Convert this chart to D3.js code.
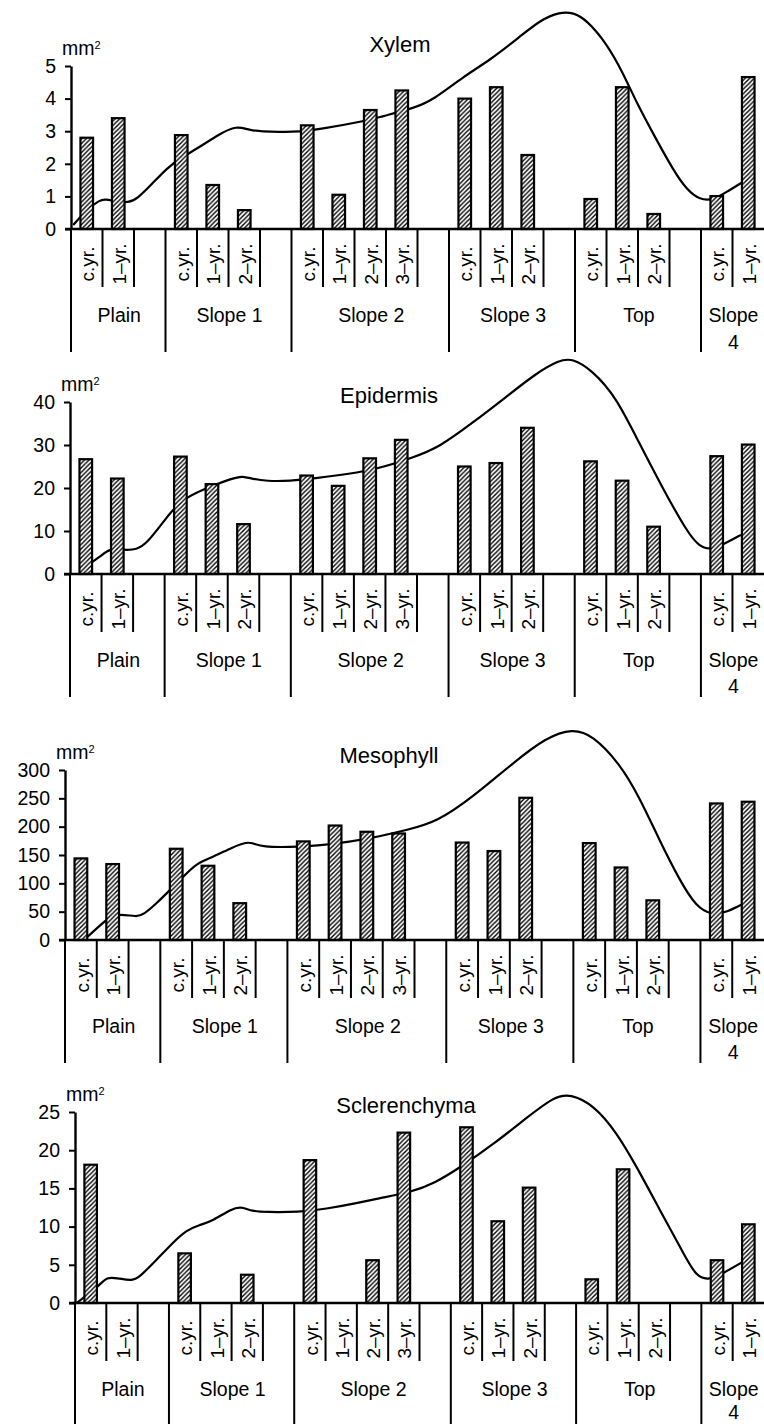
<!DOCTYPE html>
<html>
<head>
<meta charset="utf-8">
<script src="https://cdn.jsdelivr.net/npm/d3@7"></script>
<style>
  body { margin: 0; background: #fff; }
  svg { display: block; }
  text { font-family: "Liberation Sans", Arial, Helvetica, sans-serif; fill: #000; }
</style>
</head>
<body>
<svg id="chart" width="764" height="1424"></svg>
<script>
//=================== Data ===================
const groupNames = ["Plain", "Slope 1", "Slope 2", "Slope 3", "Top", "Slope 4"];
const groupAges = [
  ["c.yr.", "1–yr."],
  ["c.yr.", "1–yr.", "2–yr."],
  ["c.yr.", "1–yr.", "2–yr.", "3–yr."],
  ["c.yr.", "1–yr.", "2–yr."],
  ["c.yr.", "1–yr.", "2–yr."],
  ["c.yr.", "1–yr."]
];

// bar values, in slot order (Plain c.yr ... Slope 4 1-yr)
const xylemValues = [2.8, 3.4, 2.88, 1.35, 0.58, 3.18, 1.05, 3.65, 4.25, 4.0, 4.35, 2.27, 0.92, 4.35, 0.46, 1.01, 4.66];
const epidermisValues = [26.7, 22.2, 27.3, 20.9, 11.6, 22.9, 20.5, 26.9, 31.2, 25.0, 25.8, 34.0, 26.2, 21.7, 11.0, 27.4, 30.1];
const mesophyllValues = [144, 134, 161, 131, 65, 174, 202, 191, 188, 172, 157, 251, 171, 128, 70, 241, 244];
const sclerenchymaValues = [18.1, 0, 6.5, 0, 3.7, 18.7, 0, 5.6, 22.3, 23.0, 10.7, 15.1, 3.1, 17.5, 0, 5.6, 10.3];

const xylemTicks = [0, 1, 2, 3, 4, 5];
const epidermisTicks = [0, 10, 20, 30, 40];
const mesophyllTicks = [0, 50, 100, 150, 200, 250, 300];
const sclerenchymaTicks = [0, 5, 10, 15, 20, 25];

// profile line: [slot position, value]
const xylemCurve = [[0.07,0.12],[0.5,0.6],[0.92,0.89],[1.08,0.92],[1.45,0.84],[1.82,0.81],[2.09,0.91],[2.61,1.42],
  [3.04,1.86],[3.46,2.17],[4.1,2.52],[4.73,2.93],[5.26,3.16],[5.58,3.06],[6.0,2.98],[7.06,2.97],[7.9,3.06],
  [9.39,3.32],[9.81,3.44],[10.87,3.7],[11.5,3.96],[12.45,4.67],[13.3,5.18],[14.25,5.9],[14.9,6.41],[15.52,6.66],
  [15.95,6.64],[16.37,6.41],[17.0,5.7],[17.53,4.78],[17.96,3.86],[18.59,2.73],[19.12,1.81],[19.55,1.2],
  [19.97,0.89],[20.39,0.89],[20.82,1.14],[21.29,1.42]];
const epidermisCurve = [[0.45,1.5],[0.95,4.0],[1.27,6.0],[1.68,5.6],[2.12,5.6],[2.44,7.2],[2.94,11.9],[3.48,17.2],
  [4.34,20.0],[5.16,22.3],[5.47,22.8],[5.79,22.1],[6.23,21.6],[6.96,21.6],[7.82,22.3],[8.86,23.3],[9.72,24.4],
  [10.85,27.0],[11.71,29.5],[12.75,35.1],[13.83,41.2],[14.78,46.7],[15.5,49.7],[15.92,50.2],[16.55,47.4],
  [17.31,41.2],[18.04,30.5],[18.77,20.2],[19.53,10.2],[19.94,6.3],[20.35,5.6],[20.79,7.2],[21.27,9.1]];
const mesophyllCurve = [[0.6,0],[1.1,26],[1.42,41],[1.73,46],[2.26,41],[2.45,44],[2.89,65],[3.3,88],[3.71,111],
  [4.15,136],[4.65,146],[5.28,164],[5.72,173],[5.91,171],[6.23,164],[7.08,164],[7.92,166],[8.96,173],[9.91,183],
  [10.75,194],[11.7,208],[12.83,252],[14.09,312],[15.16,358],[15.97,373],[16.6,362],[17.45,312],[18.08,252],
  [18.71,176],[19.34,106],[19.87,58],[20.38,44],[20.82,49],[21.38,65]];
const sclerenchymaCurve = [[0.06,0],[0.38,1.05],[0.79,2.36],[1.02,3.4],[1.33,3.27],[1.84,2.88],[2.06,3.4],[2.6,5.63],
  [3.11,7.85],[3.56,9.55],[3.97,10.2],[4.38,10.7],[5.02,12.4],[5.33,12.6],[5.65,12.0],[6.1,11.9],[7.14,11.9],
  [8.0,12.3],[9.05,13.1],[9.68,13.7],[10.73,14.5],[11.49,15.7],[12.32,17.8],[13.4,20.9],[14.44,24.3],[15.3,27.0],
  [15.81,27.4],[16.57,25.9],[17.3,22.3],[17.94,17.8],[18.67,12.2],[19.43,6.5],[19.84,3.4],[20.25,3.0],
  [20.7,3.9],[21.33,5.4]];
//=================== End of Data ===================


//=========== Layout of the four panels
const panels = [
  { title: "Xylem", values: xylemValues, ticks: xylemTicks, curve: xylemCurve,
    axisX: 71, y0: 229, yTop: 66, titleX: 400, titleY: 52, line2: 120 },
  { title: "Epidermis", values: epidermisValues, ticks: epidermisTicks, curve: epidermisCurve,
    axisX: 70, y0: 574, yTop: 402, titleX: 389, titleY: 403, line2: 119 },
  { title: "Mesophyll", values: mesophyllValues, ticks: mesophyllTicks, curve: mesophyllCurve,
    axisX: 65, y0: 940, yTop: 770, titleX: 389, titleY: 763, line2: 119 },
  { title: "Sclerenchyma", values: sclerenchymaValues, ticks: sclerenchymaTicks, curve: sclerenchymaCurve,
    axisX: 75, y0: 1303, yTop: 1112, titleX: 406, titleY: 1113, line2: 116 }
];
const rightEdge = 764;

// build the slot list: each age gets a slot, every group but the last ends with a blank slot
let slots = [];
let groupStarts = [];
groupNames.forEach((g, gi) => {
  groupStarts.push(slots.length);
  groupAges[gi].forEach(a => slots.push({ key: g + "|" + a, group: g, age: a, blank: false }));
  if (gi < groupNames.length - 1) slots.push({ key: g + "|blank", group: g, age: "", blank: true });
});
let barSlots = slots.filter(s => !s.blank);

const svg = d3.select("#chart");

// hatch pattern for the bars
const defs = svg.append("defs");
defs.append("pattern")
  .attr("id", "hatch")
  .attr("patternUnits", "userSpaceOnUse")
  .attr("width", 4.5).attr("height", 4.5)
  .call(p => p.append("rect").attr("width", 4.5).attr("height", 4.5).attr("fill", "#fff"))
  .append("path")
  .attr("d", "M-1,1 l2,-2 M0,4.5 l4.5,-4.5 M3.5,5.5 l2,-2")
  .attr("stroke", "#000")
  .attr("stroke-width", 1.4);


panels.forEach(drawPanel);


function drawPanel(p) {
  let g = svg.append("g");

  //========== Scales
  let x = d3.scaleBand()
    .domain(slots.map(s => s.key))
    .range([p.axisX, rightEdge])
    .padding(0);
  let bw = x.bandwidth();
  let xs = d3.scaleLinear().domain([0, slots.length]).range([p.axisX, rightEdge]); // slot units for the curve
  let y = d3.scaleLinear()
    .domain([0, d3.max(p.ticks)])
    .range([p.y0, p.yTop]);

  //========== Profile line (drawn under the bars)
  const line = d3.line()
    .x(d => xs(d[0]))
    .y(d => y(d[1]))
    .curve(d3.curveBasis);
  g.append("path")
    .datum(p.curve)
    .attr("fill", "none")
    .attr("stroke", "#000")
    .attr("stroke-width", 2.2)
    .attr("d", line);

  //========== Bars
  let barData = barSlots.map((s, i) => ({ key: s.key, v: p.values[i] })).filter(d => d.v > 0);
  let barW = bw * 0.40;
  g.selectAll("rect.bar")
    .data(barData)
    .join("rect")
    .attr("class", "bar")
    .attr("x", d => x(d.key) + (bw - barW) / 2)
    .attr("y", d => y(d.v))
    .attr("width", barW)
    .attr("height", d => p.y0 - y(d.v))
    .attr("fill", "url(#hatch)")
    .attr("stroke", "#000")
    .attr("stroke-width", 2.2);

  //========== Y axis
  g.append("g")
    .attr("transform", `translate(${p.axisX},0)`)
    .call(d3.axisLeft(y).tickValues(p.ticks).tickSize(6).tickSizeOuter(0).tickPadding(9).tickFormat(d3.format("d")))
    .call(a => a.select(".domain").attr("stroke-width", 2.4))
    .call(a => a.selectAll(".tick line").attr("stroke-width", 2))
    .call(a => a.selectAll(".tick text")
      .style("font-size", "19.5px")
      .attr("font-family", "Liberation Sans, Arial, sans-serif"));

  // unit label
  g.append("text")
    .attr("x", p.axisX - 9)
    .attr("y", p.yTop - 11)
    .style("font-size", "19.5px")
    .text("mm")
    .append("tspan")
    .attr("dy", "-0.55em")
    .style("font-size", "11px")
    .text("2");

  // title
  g.append("text")
    .attr("x", p.titleX)
    .attr("y", p.titleY)
    .attr("text-anchor", "middle")
    .style("font-size", "22px")
    .text(p.title);

  //========== Baseline and category frame
  g.append("line")
    .attr("x1", p.axisX - 6).attr("x2", rightEdge)
    .attr("y1", p.y0).attr("y2", p.y0)
    .attr("stroke", "#000").attr("stroke-width", 2.4);

  slots.forEach((s, i) => {
    let isGroupStart = groupStarts.includes(i);
    g.append("line")
      .attr("x1", x(s.key)).attr("x2", x(s.key))
      .attr("y1", p.y0).attr("y2", p.y0 + (isGroupStart ? 123 : 58))
      .attr("stroke", "#000").attr("stroke-width", 2);
  });

  // rotated age labels
  g.selectAll("text.age")
    .data(barSlots)
    .join("text")
    .attr("class", "age")
    .attr("transform", d => `translate(${x(d.key) + bw / 2 + 1},${p.y0 + 35}) rotate(-90)`)
    .attr("text-anchor", "middle")
    .attr("dy", "0.35em")
    .style("font-size", "19px")
    .text(d => d.age);

  // group labels
  groupNames.forEach((gn, gi) => {
    let left = x(slots[groupStarts[gi]].key);
    let right = gi < groupNames.length - 1 ? x(slots[groupStarts[gi + 1]].key) : rightEdge;
    let words = gn === "Slope 4" ? ["Slope", "4"] : [gn];
    words.forEach((w, wi) => {
      g.append("text")
        .attr("x", (left + right) / 2 + 1)
        .attr("y", p.y0 + (wi === 0 ? 93 : p.line2))
        .attr("text-anchor", "middle")
        .style("font-size", "19.5px")
        .text(w);
    });
  });
}
</script>
</body>
</html>
